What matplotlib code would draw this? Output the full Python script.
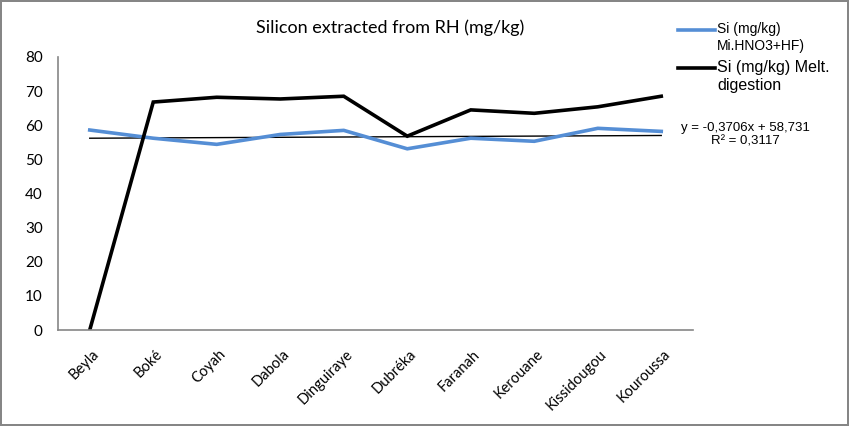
import matplotlib.pyplot as plt
import matplotlib.transforms as mtransforms
import numpy as np
from matplotlib.lines import Line2D

SITES = ["Beyla", "Boké", "Coyah", "Dabola", "Dinguiraye", "Dubréka",
         "Faranah", "Kerouane", "Kissidougou", "Kouroussa"]
SI_HNO3_HF = [58.6, 56.2, 54.4, 57.3, 58.5, 53.1, 56.2, 55.3, 59.1, 58.2]
SI_MELT = [0.0, 66.8, 68.2, 67.7, 68.5, 56.8, 64.5, 63.5, 65.4, 68.5]
TREND_ENDS = [56.2, 57.0]          # thin trend line, first and last category
Y_TICKS = [0, 10, 20, 30, 40, 50, 60, 70, 80]

LEG1 = "Si (mg/kg)\nMi.HNO3+HF)"
LEG2 = "Si (mg/kg) Melt.\ndigestion"
EQ = "y = -0,3706x + 58,731\nR² = 0,3117"

C_BLUE, C_BLACK, C_AXIS = "#558ed5", "#000000", "#868686"
W, H = 849, 426

fig = plt.figure(figsize=(W / 100, H / 100), dpi=100)
fig.patch.set_edgecolor(C_AXIS)
fig.patch.set_linewidth(1.5)
ax = fig.add_axes([58 / W, 1 - 330 / H, (693 - 58) / W, (330 - 57) / H])

x = np.arange(len(SITES))
ax.plot(x, SI_HNO3_HF, color=C_BLUE, lw=2.6, solid_joinstyle="miter")
ax.plot(x, SI_MELT, color=C_BLACK, lw=2.6, solid_joinstyle="miter")
ax.plot([x[0], x[-1]], TREND_ENDS, color="#000000", lw=1.0, zorder=1)

ax.set_xlim(-0.5, len(SITES) - 0.5)
ax.set_ylim(0, 80)
ax.set_yticks(Y_TICKS)
ax.set_xticks(x)
ax.set_xticklabels([])
# rotated category labels, nudged right/down like the original
lab_tr = ax.get_xaxis_transform() + mtransforms.ScaledTranslation(
    7 / 100, -22 / 100, fig.dpi_scale_trans)
for xi, name in zip(x, SITES):
    ax.text(xi, 0, name, transform=lab_tr, rotation=45, ha="right", va="center",
            rotation_mode="anchor", fontsize=10.5, family="Lato")
for lab in ax.get_yticklabels():
    lab.set_family("Lato")
ax.tick_params(axis="y", length=0, pad=11, labelsize=11)
ax.tick_params(axis="x", length=0)
for s in ("top", "right"):
    ax.spines[s].set_visible(False)
for s in ("left", "bottom"):
    ax.spines[s].set_color(C_AXIS)
    ax.spines[s].set_linewidth(1.2)

fig.text(390 / W, 1 - 28 / H, "Silicon extracted from RH (mg/kg)",
         ha="center", va="center", fontsize=13, family="Lato")

# legend, drawn by hand so each entry keeps its own text size
for (y0, text, size, col) in [(30, LEG1, 10, C_BLUE), (68, LEG2, 11.5, C_BLACK)]:
    fig.add_artist(Line2D([678 / W, 715 / W], [1 - y0 / H] * 2, color=col, lw=2.6))
    fig.text(717 / W, 1 - (y0 - 8) / H, text, ha="left", va="top",
             fontsize=size, family="Liberation Sans", linespacing=1.25)
fig.text(745 / W, 1 - 135 / H, EQ, ha="center", va="center",
         fontsize=9.5, family="Liberation Sans", linespacing=1.15)

fig.savefig("out.png", dpi=100)
